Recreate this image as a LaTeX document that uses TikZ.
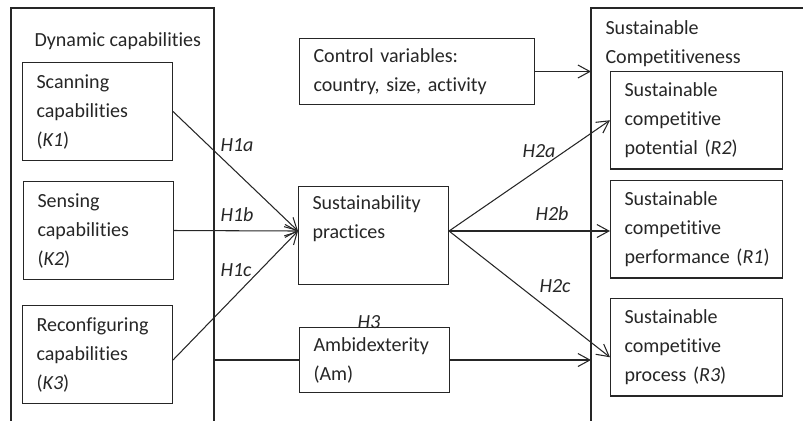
\documentclass[tikz,border=0pt]{standalone}
\usepackage{fontspec}
\setmainfont[Ligatures={NoCommon}]{Carlito}
\usetikzlibrary{arrows.meta}

\begin{document}
\begin{tikzpicture}[x=0.02cm, y=-0.02cm, line width=0.6pt, color=black!85,
  font=\fontsize{11.4pt}{16.5pt}\selectfont,
  box/.style={draw, anchor=north west, align=left, inner xsep=0.28cm, inner ysep=0pt},
  kbox/.style={box, text width=2.44cm, minimum height=1.96cm},
  rbox/.style={box, text width=2.88cm, minimum height=1.95cm},
  lbl/.style={anchor=west, inner sep=0pt, align=left},
  hyp/.style={anchor=west, inner sep=0pt, font=\fontsize{11.4pt}{16.5pt}\selectfont\itshape},
  arr/.style={-{Straight Barb[length=0.24cm, width=0.26cm]}}]
	\useasboundingbox (0,0) rectangle (803,421);
	% outer frames
	\coordinate (lframe) at (214,8);
	\coordinate (rframe) at (591,8);
	\draw (11,421) -- (11,8) -- (lframe) -- (214,421);
	\draw (591,421) -- (rframe) -- (803,8);
	\node[lbl] (dyn) at (34,41) {Dynamic capabilities};
	\node[lbl] (comp) at (605,44) {Sustainable\\Competitiveness};
	
	% boxes
	\node[kbox] (k1) at (22,62) {Scanning\\capabilities\\(\textit{K1})};
	\node[kbox] (k2) at (23,181) {Sensing\\capabilities\\(\textit{K2})};
	\node[kbox] (k3) at (22,305) {Reconfiguring\\capabilities\\(\textit{K3})};
	\node[kbox] (sp) at (298,186) {Sustainability\\practices\\\strut};
	\node[box, text width=4.14cm, minimum height=1.32cm] (ctrl) at (299,38) {Control variables:\\country, size, activity};
	\node[box, text width=2.44cm, minimum height=1.3cm] (am) at (299,327) {Ambidexterity\\(Am)};
	\node[rbox] (r2) at (610,71) {Sustainable\\competitive\\potential~(\textit{R2})};
	\node[rbox] (r1) at (610,180) {Sustainable\\competitive\\performance~(\textit{R1})};
	\node[rbox] (r3) at (610,298) {Sustainable\\competitive\\process~(\textit{R3})};
	
	% connectors
	\coordinate (spin) at ([yshift=0.09cm]sp.west);
	\coordinate (spout) at ([yshift=0.09cm]sp.east);
	\draw[arr] (k1.east) -- (spin);
	\draw[arr] (k2.east) -- (spin);
	\draw[arr] ([yshift=-0.11cm]k3.east) -- (spin);
	\draw[arr] (spout) -- (r2.west);
	\draw[arr] (spout) -- (spout -| r1.west);
	\draw[arr] (spout) -- ([yshift=-0.2cm]r3.west);
	\draw[arr] (ctrl.east) -- (ctrl.east -| rframe);
	\draw (am.west -| lframe) -- (am.west);
	\draw[arr] (am.east) -- (am.east -| rframe);
	
	% hypotheses
	\node[hyp] (h1a) at (220,145) {H1a};
	\node[hyp] (h1b) at (220,215) {H1b};
	\node[hyp] (h1c) at (220,270) {H1c};
	\node[hyp] (h2a) at (522,151) {H2a};
	\node[hyp] (h2b) at (535,214) {H2b};
	\node[hyp] (h2c) at (539,286) {H2c};
	\node[hyp] (h3) at (357,322) {H3};
\end{tikzpicture}
\end{document}
